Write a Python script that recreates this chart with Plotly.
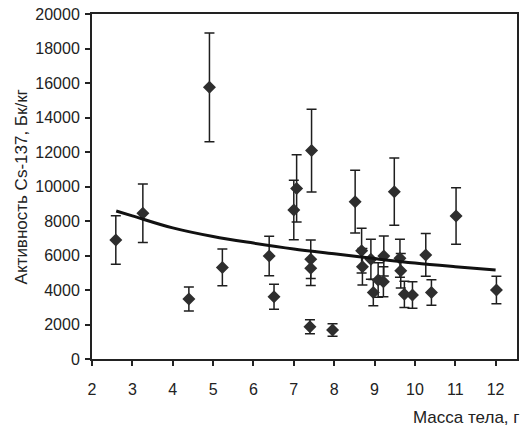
import plotly.graph_objects as go

# Body mass (g)
mass = [2.59, 3.26, 4.40, 4.91, 5.23, 6.39, 6.51, 7.00, 7.07, 7.44, 7.42, 7.42, 7.40, 7.96,
        8.52, 8.68, 8.70, 8.91, 8.97, 9.09, 9.22, 9.23, 9.49, 9.63, 9.65, 9.74, 9.94,
        10.27, 10.41, 11.02, 12.02]
# Cs-137 activity (Bq/kg)
activity = [6900, 8450, 3480, 15750, 5310, 5970, 3610, 8640, 9890, 12080, 5780, 5260, 1870, 1680,
            9120, 6280, 5350, 5780, 3850, 4580, 4480, 5970, 9700, 5840, 5120, 3750, 3710,
            6030, 3850, 8290, 4000]
# Error (+/-)
error = [1400, 1700, 700, 3150, 1070, 1150, 720, 1720, 1950, 2400, 1120, 1000, 400, 360,
         1820, 1300, 1060, 1160, 760, 1000, 870, 1160, 1950, 1100, 1000, 760, 770,
         1240, 740, 1640, 800]

# Trend curve
trend_x = [2.6, 3, 4, 5, 6, 7, 8, 9, 10, 11, 12]
trend_y = [8580, 8300, 7600, 7100, 6720, 6380, 6100, 5820, 5560, 5350, 5160]

x_ticks = [2, 3, 4, 5, 6, 7, 8, 9, 10, 11, 12]
y_ticks = [0, 2000, 4000, 6000, 8000, 10000, 12000, 14000, 16000, 18000, 20000]

FONT = "Liberation Sans, Arial, sans-serif"

fig = go.Figure()
fig.add_trace(go.Scatter(
    x=mass, y=activity, mode="markers",
    marker=dict(symbol="diamond", size=10, color="#2e2e2e"),
    error_y=dict(type="data", array=error, visible=True, color="#1e1e1e", thickness=1.5, width=5),
    showlegend=False,
))
fig.add_trace(go.Scatter(
    x=trend_x, y=trend_y, mode="lines", line=dict(color="#111111", width=3, shape="spline"),
    showlegend=False,
))

fig.update_layout(
    width=526, height=431,
    margin=dict(l=92, r=9, t=14, b=72),
    paper_bgcolor="white", plot_bgcolor="white",
    font=dict(family=FONT, size=16, color="#222222"),
    xaxis=dict(
        range=[2, 12.53], tickvals=x_ticks, ticktext=[str(v) for v in x_ticks],
        ticks="outside", ticklen=5, tickwidth=1.5, tickcolor="#222222",
        showgrid=False, zeroline=False, showline=True, linecolor="#222222", linewidth=2,
        mirror=True, ticklabelstandoff=10, tickfont=dict(size=16), automargin=False,
    ),
    yaxis=dict(
        range=[0, 20000], tickvals=y_ticks, ticktext=[str(v) for v in y_ticks],
        ticks="outside", ticklen=5, tickwidth=1.5, tickcolor="#222222",
        showgrid=False, zeroline=False, showline=True, linecolor="#222222", linewidth=2,
        mirror=True, tickfont=dict(size=16), automargin=False, ticklabelstandoff=2,
    ),
    annotations=[
        dict(text="Масса тела, г", xref="paper", yref="paper", x=1.012, y=-0.135,
             xanchor="right", yanchor="top", showarrow=False, font=dict(size=17, family=FONT)),
        dict(text="Активность Cs-137, Бк/кг", xref="paper", yref="paper", x=-0.165, y=0.5,
             xanchor="center", yanchor="middle", textangle=-90, showarrow=False,
             font=dict(size=17, family=FONT)),
    ],
)

fig.write_html("out.html", config={"displayModeBar": False},
               post_script="document.body.style.margin='0';document.body.style.overflow='hidden';")
